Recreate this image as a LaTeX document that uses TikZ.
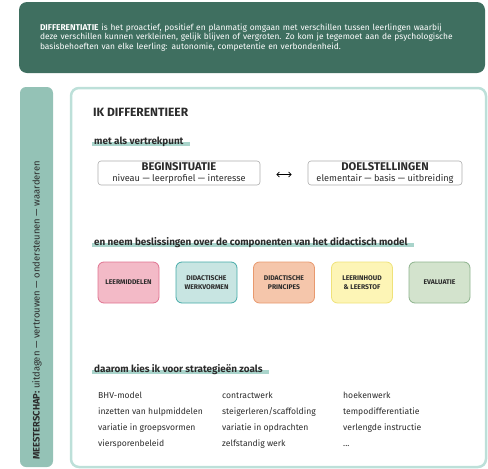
\documentclass[tikz,border=0pt]{standalone}
\usepackage{fontspec}
\setmainfont{Fira Sans}
\usepackage{tikz}
\usetikzlibrary{arrows.meta,positioning,backgrounds}
\definecolor{donkergroen}{HTML}{3F6F60}
\definecolor{balk}{HTML}{94C2B6}
\definecolor{rand}{HTML}{BDE0D9}
\definecolor{markeer}{HTML}{A9D4CB}
\definecolor{tekst}{HTML}{2B2B2B}
\definecolor{roze}{HTML}{F3BAC7}\definecolor{rozerand}{HTML}{E07390}
\definecolor{turkoois}{HTML}{C8E5E2}\definecolor{turkooisrand}{HTML}{45AAA8}
\definecolor{perzik}{HTML}{F5C6AB}\definecolor{perzikrand}{HTML}{E8996E}
\definecolor{geel}{HTML}{FDF5B6}\definecolor{geelrand}{HTML}{EFE27A}
\definecolor{groen}{HTML}{D3E3CD}\definecolor{groenrand}{HTML}{8DB38D}

\begin{document}
\begin{tikzpicture}[x=1pt, y=-1pt,
    every node/.style={inner sep=0pt, text=tekst},
    kop/.style={anchor=base west, font=\fontsize{9.9}{11}\selectfont\bfseries},
    vak/.style={draw=gray!65, line width=0.6pt, rounded corners=3pt, minimum height=24pt, align=center},
    comp/.style={line width=0.8pt, rounded corners=6pt, minimum width=61pt, minimum height=41pt,
        align=center, font=\fontsize{6.8}{8.5}\selectfont\bfseries},
    strat/.style={anchor=base west, font=\fontsize{8.6}{10}\selectfont}]

  \useasboundingbox (0,0) rectangle (488,469);

  \node[fill=donkergroen, rounded corners=8pt, minimum width=466pt, minimum height=71pt,
        inner xsep=21pt, text width=424pt, align=left, text=white,
        font=\fontsize{8.4}{9.3}\selectfont] (intro) at (252,37.5)
    {\textbf{DIFFERENTIATIE} is het proactief, positief en planmatig omgaan met verschillen tussen leerlingen waarbij\\
     deze verschillen kunnen verkleinen, gelijk blijven of vergroten. Zo kom je tegemoet aan de psychologische\\
     basisbehoeften van elke leerling: autonomie, competentie en verbondenheid.};

  \node[fill=balk, rounded corners=6pt, minimum width=33pt, minimum height=380pt] (meesterbalk) at (36.5,277) {};
  \node[rotate=90, anchor=west, font=\fontsize{9.4}{11}\selectfont] (meester) at (37,460)
    {\textbf{MEESTERSCHAP:} uitdagen --- vertrouwen --- ondersteunen --- waarderen};

  \draw[rand, line width=2.5pt, rounded corners=8pt] (71,88) rectangle (486,467);

  \node[kop, font=\fontsize{12}{14}\selectfont\bfseries] (ik) at (93,116) {IK DIFFERENTIEER};
  \node[kop] (kop1) at (94,144) {met als vertrekpunt};
  \node[kop] (kop2) at (94,245) {en neem beslissingen over de componenten van het didactisch model};
  \node[kop] (kop3) at (94,372) {daarom kies ik voor strategieën zoals};
  \begin{scope}[on background layer]
    \foreach \k in {kop1,kop2,kop3}
      \fill[markeer] ([xshift=-2pt,yshift=-2pt]\k.base west) rectangle ([xshift=6pt,yshift=2.5pt]\k.base east);
  \end{scope}

  \node[vak, minimum width=162pt] (begin) at (179,173)
    {{\fontsize{11.2}{12}\selectfont\bfseries BEGINSITUATIE}\\[-1.5pt]
     {\fontsize{9.2}{10}\selectfont niveau --- leerprofiel --- interesse}};
  \node[vak, minimum width=154pt] (doel) at (385,173)
    {{\fontsize{11.2}{12}\selectfont\bfseries DOELSTELLINGEN}\\[-1.5pt]
     {\fontsize{9.2}{10}\selectfont elementair --- basis --- uitbreiding}};
  \draw[{Straight Barb[length=2.5pt]}-{Straight Barb[length=2.5pt]}, line width=0.8pt]
    ([xshift=16pt, yshift=-1.5pt]begin.east) -- ([xshift=-16pt, yshift=-1.5pt]doel.west);

  \node[comp, fill=roze, draw=rozerand] (leermiddelen) at (128.5,282.5) {LEERMIDDELEN};
  \node[comp, fill=turkoois, draw=turkooisrand] (werkvormen) at (206.5,282.5) {DIDACTISCHE\\WERKVORMEN};
  \node[comp, fill=perzik, draw=perzikrand] (principes) at (284,282.5) {DIDACTISCHE\\PRINCIPES};
  \node[comp, fill=geel, draw=geelrand] (leerinhoud) at (362,282.5) {LEERINHOUD\\\& LEERSTOF};
  \node[comp, fill=groen, draw=groenrand] (evaluatie) at (439.5,282.5) {EVALUATIE};

  \node[strat] (s11) at (98,398) {BHV-model};
  \node[strat] (s21) at (98,414) {inzetten van hulpmiddelen};
  \node[strat] (s31) at (98,430) {variatie in groepsvormen};
  \node[strat] (s41) at (98,446) {viersporenbeleid};
  \node[strat] (s12) at (222,398) {contractwerk};
  \node[strat] (s22) at (222,414) {steigerleren/scaffolding};
  \node[strat] (s32) at (222,430) {variatie in opdrachten};
  \node[strat] (s42) at (222,446) {zelfstandig werk};
  \node[strat] (s13) at (343,398) {hoekenwerk};
  \node[strat] (s23) at (343,414) {tempodifferentiatie};
  \node[strat] (s33) at (343,430) {verlengde instructie};
  \node[strat] (s43) at (343,446) {...};
\end{tikzpicture}
\end{document}
